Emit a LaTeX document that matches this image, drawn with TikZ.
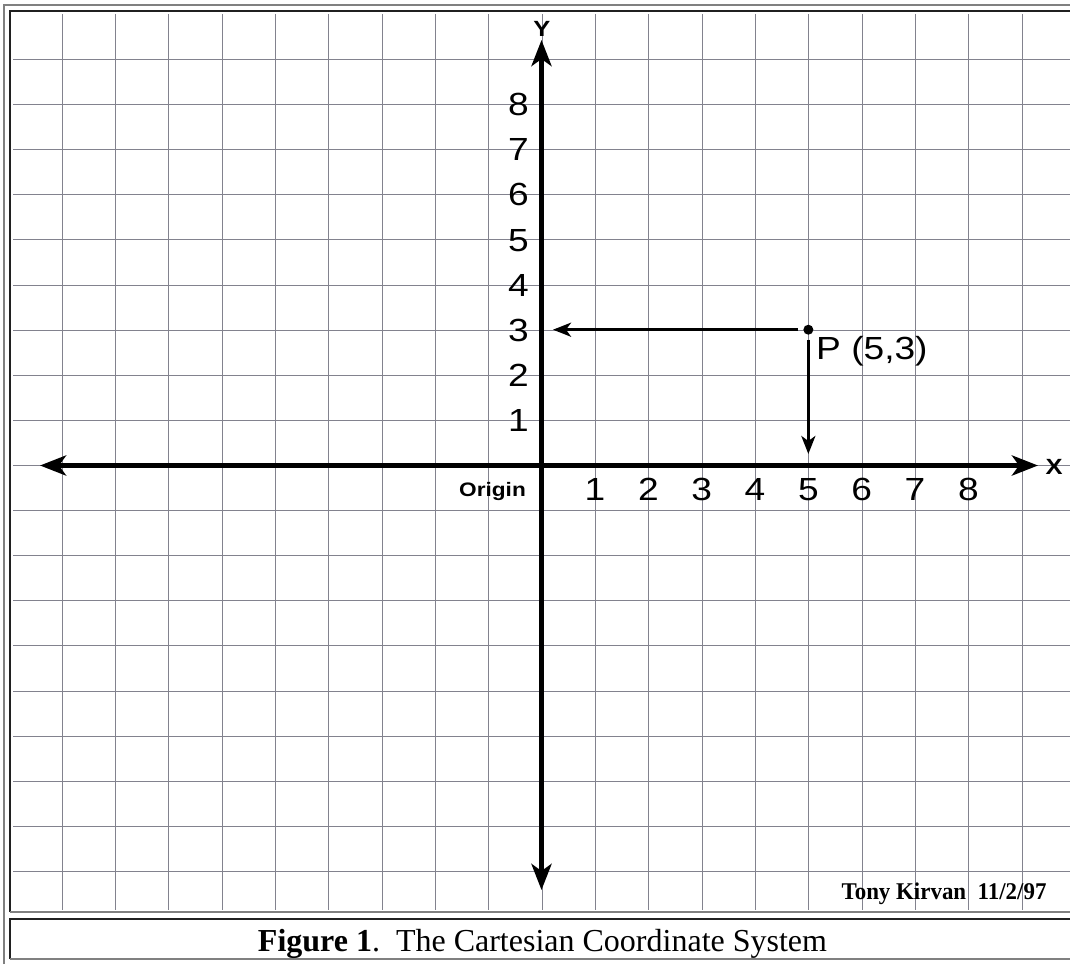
\documentclass[tikz,border=0pt]{standalone}
\usepackage{fontspec}
\usepackage{graphicx}
\setmainfont{Liberation Serif}
\newfontfamily\arialf{Liberation Sans}
\usetikzlibrary{arrows.meta}
\definecolor{gridc}{RGB}{130,130,142}
\definecolor{bordgray}{RGB}{128,128,128}
\definecolor{borddark}{RGB}{32,32,32}
\newcommand{\stretchx}[1]{\scalebox{1.16}[1]{#1}}
\tikzset{
  gridline/.style={draw=gridc, line width=1.2pt},
  axisline/.style={draw=black, line width=5pt, {Stealth[length=26pt,width=20pt,inset=7pt]}-{Stealth[length=26pt,width=20pt,inset=7pt]}},
  projline/.style={draw=black, line width=3pt, -{Stealth[length=18pt,width=14pt,inset=5pt]}},
  ticklab/.style={inner sep=0pt, font=\arialf\fontsize{32}{36}\selectfont},
  axislab/.style={inner sep=0pt, font=\arialf\bfseries\fontsize{22}{26}\selectfont},
  originlab/.style={inner sep=0pt, font=\arialf\bfseries\fontsize{19.5}{23}\selectfont},
  dotnode/.style={circle, fill=black, minimum size=10pt, inner sep=0pt, outer sep=5pt},
  outerborder/.style={draw=bordgray, line width=2pt},
  darkborder/.style={draw=borddark, line width=2pt},
  grayborder/.style={draw=bordgray, line width=2pt},
}
\begin{document}
\begin{tikzpicture}[x=1pt,y=-1pt]
\useasboundingbox (0,0) rectangle (1070,964);
\fill[white] (0,0) rectangle (1070,964);
% table borders
\draw[outerborder] (4,964) -- (4,4.5) -- (1070,4.5);
\draw[darkborder] (10,912) -- (10,11) -- (1070,11);
\draw[grayborder] (10,912) -- (1070,912);
\draw[darkborder] (10,959) -- (10,919) -- (1070,919);
\draw[grayborder] (10,959) -- (1070,959);
% grid
\foreach \i in {-9,...,9} {
  \draw[gridline] ({round(541.7+53.33*\i)+0.5},14) -- ({round(541.7+53.33*\i)+0.5},910);
  \draw[gridline] (13,{round(465+45.1*\i)+0.5}) -- (1070,{round(465+45.1*\i)+0.5});
}
% axes
\coordinate (xl) at (40,465.5);
\coordinate (xr) at (1038,465.5);
\coordinate (yt) at (541.5,40);
\coordinate (yb) at (541.5,890);
\draw[axisline] (xl) -- (xr);
\draw[axisline] (yb) -- (yt);
\node[axislab] (ylab) at (542,29) {\stretchx{Y}};
\node[axislab] (xlab) at (1054,467) {\stretchx{X}};
% tick labels
\foreach \k in {1,...,8} {
  \node[ticklab, anchor=base east] (ty\k) at (529,{465-45.1*\k+11.5}) {\stretchx{\k}};
  \node[ticklab, anchor=base] (tx\k) at ({541.7+53.33*\k},500.5) {\stretchx{\k}};
}
\node[originlab, anchor=base east] (origin) at (526,496) {\stretchx{Origin}};
% point P
\node[dotnode] (P) at (808.35,329.7) {};
\coordinate (Py) at (553,329.7);
\coordinate (Px) at (808.35,454);
\draw[projline] (P) -- (Py);
\draw[projline] (P) -- (Px);
\node[ticklab, anchor=west] (Plab) at (816,351.5) {\stretchx{P (5,3)}};
% signature
\node[inner sep=0pt, anchor=base, font=\bfseries\fontsize{24}{28}\selectfont] (sig) at (944,899) {\scalebox{0.955}[1]{Tony Kirvan\ \ 11/2/97}};
% caption
\node[inner sep=0pt, anchor=base, font=\fontsize{32}{36}\selectfont] (cap) at (542.5,951.5) {\textbf{Figure 1}.\ \ The Cartesian Coordinate System};
\end{tikzpicture}
\end{document}
